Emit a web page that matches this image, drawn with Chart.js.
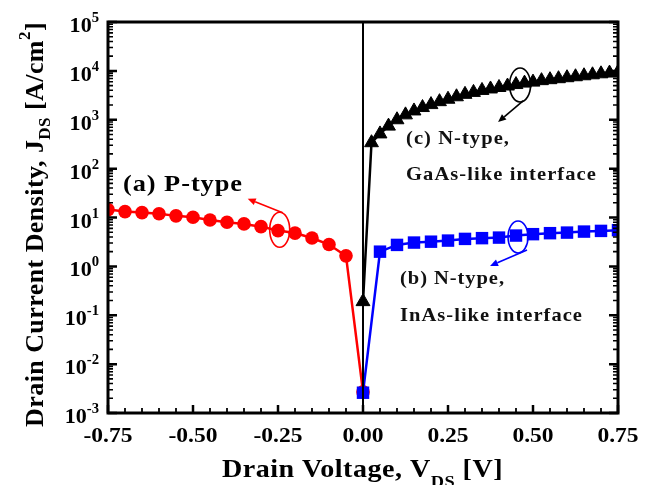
<!DOCTYPE html>
<html><head><meta charset="utf-8">
<script src="https://cdn.jsdelivr.net/npm/chart.js@4"></script>
<style>html,body{margin:0;padding:0;background:#fff;}#wrap{width:653px;height:485px;}</style>
</head><body><div id="wrap"><canvas id="c" width="653" height="485"></canvas></div>
<script>
// ---- data ----
const pTypeV = [-0.75,-0.70,-0.65,-0.60,-0.55,-0.50,-0.45,-0.40,-0.35,-0.30,-0.25,-0.20,-0.15,-0.10,-0.05,0.00];
const pTypeJ = [14.5,13.2,12.6,11.9,10.8,10.1,8.9,8.0,7.4,6.5,5.4,4.8,3.8,2.8,1.64,0.0027];

const nInAsV = [0.00,0.05,0.10,0.15,0.20,0.25,0.30,0.35,0.40,0.45,0.50,0.55,0.60,0.65,0.70,0.75];
const nInAsJ = [0.0026,2.0,2.75,3.07,3.2,3.37,3.65,3.78,3.88,4.27,4.56,4.78,4.91,5.15,5.32,5.5];

const nGaAsV = [0.000,0.025,0.050,0.075,0.100,0.125,0.150,0.175,0.200,0.225,0.250,0.275,0.300,0.325,0.350,0.375,
                0.400,0.425,0.450,0.475,0.500,0.525,0.550,0.575,0.600,0.625,0.650,0.675,0.700,0.725,0.750];
const nGaAsJ = [0.19,339,513,741,1000,1259,1514,1778,2042,2344,2630,2951,3311,3631,3981,4266,
                4571,4898,5248,5623,5888,6310,6607,6918,7244,7586,7943,8318,8710,9016,9333];

const zeroLineV = [0, 0];
const zeroLineJ = [1e-3, 1e5];

const xTickValues = [-0.75,-0.50,-0.25,0.00,0.25,0.50,0.75];
const xTickLabels = ['-0.75','-0.50','-0.25','0.00','0.25','0.50','0.75'];
const yTickExponents = ['-3','-2','-1','0','1','2','3','4','5'];

const pts = (xs, ys) => xs.map((x, i) => ({x: x, y: ys[i]}));

const FONT = '"Liberation Serif","Times New Roman",Times,serif';

function drawText(ctx, segs, x, y, o) {
  o = o || {};
  ctx.save();
  let nat = 0, nch = 0;
  for (const s of segs) {
    ctx.font = 'bold ' + s.size + 'px ' + FONT;
    if ('letterSpacing' in ctx) ctx.letterSpacing = '0px';
    s.w = ctx.measureText(s.t).width;
    nat += s.w; nch += [...s.t].length;
  }
  const sx = o.sx || 1;
  let ls = 0;
  if (o.w && ('letterSpacing' in ctx)) ls = (o.w / sx - nat) / nch;
  const total = nat + ls * nch;
  const align = o.align || 'left';
  let x0 = align === 'left' ? 0 : (align === 'center' ? -total / 2 : -total);
  ctx.translate(x, y);
  if (o.rot) ctx.rotate(o.rot);
  ctx.scale(sx, 1);
  ctx.fillStyle = o.color || '#000';
  ctx.textBaseline = 'alphabetic';
  ctx.textAlign = 'left';
  for (const s of segs) {
    ctx.font = 'bold ' + s.size + 'px ' + FONT;
    if ('letterSpacing' in ctx) ctx.letterSpacing = ls + 'px';
    ctx.fillText(s.t, x0, s.dy || 0);
    x0 += s.w + ls * [...s.t].length;
  }
  ctx.restore();
}

function arrow(ctx, x1, y1, x2, y2, color) {
  ctx.save();
  ctx.strokeStyle = color; ctx.fillStyle = color; ctx.lineWidth = 1.6;
  const a = Math.atan2(y2 - y1, x2 - x1);
  const L = 8, W = 3.5;
  const bx = x2 - L * Math.cos(a), by = y2 - L * Math.sin(a);
  ctx.beginPath(); ctx.moveTo(x1, y1); ctx.lineTo(bx, by); ctx.stroke();
  ctx.beginPath();
  ctx.moveTo(x2, y2);
  ctx.lineTo(bx + W * Math.sin(a), by - W * Math.cos(a));
  ctx.lineTo(bx - W * Math.sin(a), by + W * Math.cos(a));
  ctx.closePath(); ctx.fill();
  ctx.restore();
}

function ellipse(ctx, cx, cy, rx, ry, color) {
  ctx.save();
  ctx.strokeStyle = color; ctx.lineWidth = 1.6;
  ctx.beginPath(); ctx.ellipse(cx, cy, rx, ry, 0, 0, Math.PI * 2); ctx.stroke();
  ctx.restore();
}

const decor = {
  id: 'decor',
  afterDraw(chart) {
    const ctx = chart.ctx, a = chart.chartArea;
    const xs = chart.scales.x, ys = chart.scales.y;
    ctx.save();
    // frame
    ctx.strokeStyle = '#000'; ctx.lineWidth = 3;
    ctx.strokeRect(a.left, a.top, a.right - a.left, a.bottom - a.top);
    // y ticks (left and right, inward)
    ctx.lineCap = 'butt';
    for (let i = 0; i < yTickExponents.length; i++) {
      const e = parseInt(yTickExponents[i], 10);
      const py = ys.getPixelForValue(Math.pow(10, e));
      ctx.lineWidth = 2.5;
      ctx.beginPath();
      ctx.moveTo(a.left, py); ctx.lineTo(a.left + 9, py);
      ctx.moveTo(a.right, py); ctx.lineTo(a.right - 9, py);
      ctx.stroke();
      if (i < yTickExponents.length - 1) {
        ctx.lineWidth = 1.6;
        ctx.beginPath();
        for (let m = 2; m <= 9; m++) {
          const my = ys.getPixelForValue(m * Math.pow(10, e));
          ctx.moveTo(a.left, my); ctx.lineTo(a.left + 5, my);
          ctx.moveTo(a.right, my); ctx.lineTo(a.right - 5, my);
        }
        ctx.stroke();
      }
      drawText(ctx, [{t: '10', size: 21}, {t: yTickExponents[i], size: 14, dy: -10}],
        a.left - 9, py + 10, {align: 'right', sx: 1.05});
    }
    // x ticks (bottom, inward)
    for (let k = -15; k <= 15; k++) {
      const v = k * 0.05;
      const px = xs.getPixelForValue(v);
      const major = (k % 5 === 0);
      ctx.lineWidth = major ? 2.5 : 1.8;
      ctx.beginPath();
      ctx.moveTo(px, a.bottom); ctx.lineTo(px, a.bottom - (major ? 8 : 5));
      ctx.stroke();
    }
    for (let i = 0; i < xTickValues.length; i++) {
      const px = xs.getPixelForValue(xTickValues[i]);
      drawText(ctx, [{t: xTickLabels[i], size: 22}], px, a.bottom + 29, {align: 'center', sx: 1.07});
    }
    // axis titles
    drawText(ctx, [{t: 'Drain Voltage, V', size: 26}, {t: 'DS', size: 17, dy: 10}, {t: ' [V]', size: 26}],
      222, 477, {w: 281, sx: 1.08});
    drawText(ctx, [{t: 'Drain Current Density, J', size: 26}, {t: 'DS', size: 17, dy: 7},
                   {t: ' [A/cm', size: 26}, {t: '2', size: 17, dy: -13}, {t: ']', size: 26}],
      43, 224.5, {w: 405, align: 'center', rot: -Math.PI / 2});

    // annotations
    const rx = xs.getPixelForValue(-0.245), ry = ys.getPixelForValue(5.6);
    ellipse(ctx, rx, ry, 10, 17.5, '#ff0000');
    arrow(ctx, rx + 3, ry - 17, rx - 32, ry - 31, '#ff0000');
    drawText(ctx, [{t: '(a) P-type', size: 24}], 123, 190.5, {w: 120, sx: 1.1});

    const bx = xs.getPixelForValue(0.462), by = ys.getPixelForValue(5150);
    ellipse(ctx, bx, by, 10.5, 17, '#000');
    arrow(ctx, bx + 3, by + 16, bx - 22, by + 37, '#000');
    drawText(ctx, [{t: '(c) N-type,', size: 19}], 406, 143.5, {w: 104, sx: 1.08, color: '#111'});
    drawText(ctx, [{t: 'GaAs-like interface', size: 19}], 406, 180, {w: 191, sx: 1.08, color: '#111'});

    const ux = xs.getPixelForValue(0.456), uy = ys.getPixelForValue(4.0);
    ellipse(ctx, ux, uy, 10, 16, '#0000ff');
    arrow(ctx, ux + 9, uy + 13, ux - 28, uy + 29, '#0000ff');
    drawText(ctx, [{t: '(b) N-type,', size: 19}], 400, 283.5, {w: 105, sx: 1.08, color: '#111'});
    drawText(ctx, [{t: 'InAs-like interface', size: 19}], 400, 321, {w: 183, sx: 1.08, color: '#111'});
    ctx.restore();
  }
};

new Chart(document.getElementById('c'), {
  type: 'line',
  data: {
    datasets: [
      {label: 'zero', data: pts(zeroLineV, zeroLineJ), borderColor: '#000', borderWidth: 2,
       pointRadius: 0, order: 0},
      {label: '(c) N-type, GaAs-like interface', data: pts(nGaAsV, nGaAsJ), borderColor: '#000',
       backgroundColor: '#000', borderWidth: 2.5, pointStyle: 'triangle', pointRadius: 8,
       pointBorderWidth: 1, pointBackgroundColor: '#000', pointBorderColor: '#000', order: 1},
      {label: '(b) N-type, InAs-like interface', data: pts(nInAsV, nInAsJ), borderColor: '#0000ff',
       backgroundColor: '#0000ff', borderWidth: 2.5, pointStyle: 'rect', pointRadius: 8.8,
       pointBorderWidth: 0, pointBackgroundColor: '#0000ff', order: 2},
      {label: '(a) P-type', data: pts(pTypeV, pTypeJ), borderColor: '#ff0000',
       backgroundColor: '#ff0000', borderWidth: 2.5, pointStyle: 'circle', pointRadius: 6.8,
       pointBorderWidth: 0, pointBackgroundColor: '#ff0000', order: 3}
    ]
  },
  options: {
    responsive: false, animation: false, devicePixelRatio: 1,
    layout: {padding: {left: 108, right: 35, top: 22, bottom: 72}},
    plugins: {legend: {display: false}, tooltip: {enabled: false}},
    scales: {
      x: {type: 'linear', min: -0.75, max: 0.75, display: false},
      y: {type: 'logarithmic', min: 1e-3, max: 1e5, display: false}
    }
  },
  plugins: [decor]
});
</script>
</body></html>
